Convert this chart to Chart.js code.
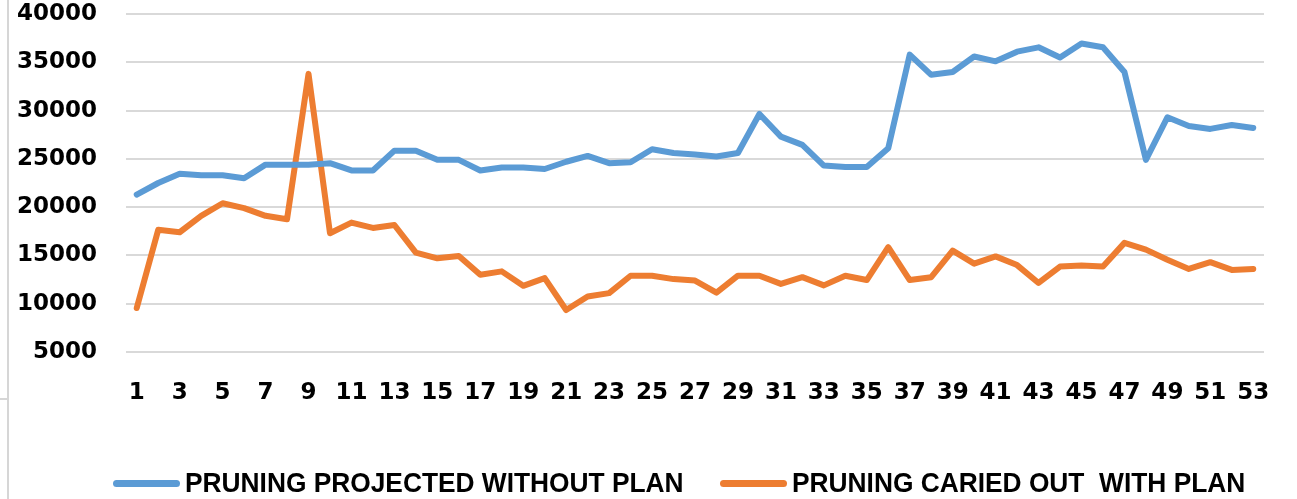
<!DOCTYPE html>
<html>
<head>
<meta charset="utf-8">
<title>Pruning</title>
<script src="https://cdn.jsdelivr.net/npm/chart.js@4/dist/chart.umd.min.js"></script>
<style>
  html, body { margin: 0; padding: 0; background: #fff; }
  #wrap { position: relative; width: 1297px; height: 499px; overflow: hidden; }
  #edge { position: absolute; left: 7px; top: 0; width: 2px; height: 499px; background: #d6d6d6; }
  #edgeTick { position: absolute; left: 0; top: 398px; width: 8px; height: 2px; background: #d6d6d6; }
  #legend {
    position: absolute; left: 113px; top: 466px; height: 34px;
    display: flex; align-items: center; white-space: nowrap;
    font-family: "Liberation Sans", Arial, sans-serif; font-weight: bold; font-size: 28px; color: #000;
  }
  .item { display: flex; align-items: center; margin-right: 36px; }
  .swatch { width: 67px; height: 7px; border-radius: 3.5px; margin-right: 5px; }
  .text { display: inline-block; transform-origin: left center; white-space: pre; }
</style>
</head>
<body>
<div id="wrap">
  <canvas id="pruningChart" width="1297" height="499"></canvas>
  <div id="edge"></div>
  <div id="edgeTick"></div>
  <div id="legend"></div>
</div>
<script>
const weeks = [
  "1", "2", "3", "4", "5", "6", "7", "8", "9", "10",
  "11", "12", "13", "14", "15", "16", "17", "18", "19", "20",
  "21", "22", "23", "24", "25", "26", "27", "28", "29", "30",
  "31", "32", "33", "34", "35", "36", "37", "38", "39", "40",
  "41", "42", "43", "44", "45", "46", "47", "48", "49", "50",
  "51", "52", "53",
];

const withoutPlan = [
  21300, 22500, 23450, 23300, 23300, 23000, 24400, 24400, 24400, 24550,
  23800, 23800, 25850, 25850, 24900, 24900, 23800, 24100, 24100, 23950,
  24700, 25300, 24550, 24650, 26000, 25600, 25450, 25250, 25600, 29650,
  27300, 26450, 24300, 24150, 24150, 26100, 35800, 33700, 34000, 35600,
  35100, 36100, 36550, 35500, 36950, 36550, 34000, 24900, 29300, 28400,
  28100, 28500, 28200,
];

const withPlan = [
  9550, 17650, 17400, 19100, 20400, 19900, 19100, 18750, 33800, 17300,
  18400, 17850, 18150, 15300, 14700, 14950, 13000, 13350, 11850, 12650,
  9350, 10750, 11100, 12900, 12900, 12550, 12400, 11150, 12900, 12900,
  12050, 12750, 11900, 12900, 12450, 15850, 12450, 12750, 15500, 14150,
  14900, 14000, 12150, 13850, 13950, 13850, 16300, 15600, 14550, 13600,
  14300, 13500, 13600,
];

const yTicks = [5000, 10000, 15000, 20000, 25000, 30000, 35000, 40000];

const blue = "#5b9bd5";
const orange = "#ed7d31";
const tickFont = { family: "'DejaVu Sans', sans-serif", size: 23, weight: "bold" };

const ctx = document.getElementById("pruningChart");

const chart = new Chart(ctx, {
  type: "line",
  data: {
    labels: weeks,
    datasets: [
      {
        label: "PRUNING PROJECTED WITHOUT PLAN",
        data: withoutPlan,
        borderColor: blue,
        backgroundColor: blue,
        borderWidth: 6,
      },
      {
        label: "PRUNING CARIED OUT  WITH PLAN",
        data: withPlan,
        borderColor: orange,
        backgroundColor: orange,
        borderWidth: 6,
      },
    ],
  },
  options: {
    responsive: false,
    animation: false,
    events: [],
    layout: {
      padding: { left: 0, right: 33, top: 14, bottom: 0 },
    },
    elements: {
      point: { radius: 0 },
      line: { tension: 0, borderCapStyle: "round", borderJoinStyle: "round" },
    },
    scales: {
      x: {
        offset: true,
        grid: { display: false, drawTicks: false },
        border: { display: false },
        afterFit: function (scale) {
          scale.height = 147;
        },
        ticks: {
          autoSkip: false,
          maxRotation: 0,
          padding: 27,
          color: "#000",
          font: tickFont,
          // only every other week gets a label
          callback: function (value, index) {
            return index % 2 === 0 ? weeks[index] : "";
          },
        },
      },
      y: {
        min: yTicks[0],
        max: yTicks[yTicks.length - 1],
        afterBuildTicks: function (scale) {
          scale.ticks = yTicks.map((v) => ({ value: v }));
        },
        afterFit: function (scale) {
          scale.width = 126;
        },
        // gap between labels and plot comes from an invisible tick mark,
        // ticks.padding would also push the plot top down
        grid: {
          color: "#d9d9d9",
          lineWidth: 2,
          drawTicks: true,
          tickLength: 29,
          tickColor: "rgba(0,0,0,0)",
        },
        border: { display: false },
        ticks: {
          padding: 0,
          color: "#000",
          font: tickFont,
          callback: function (value) {
            return String(value);
          },
        },
      },
    },
    plugins: {
      tooltip: { enabled: false },
      legend: { display: false },
    },
  },
});

// narrow bold legend under the plot, built from the datasets
const legendBox = document.getElementById("legend");
const squeeze = 0.94;
chart.data.datasets.forEach((ds) => {
  const item = document.createElement("div");
  item.className = "item";
  const swatch = document.createElement("span");
  swatch.className = "swatch";
  swatch.style.background = ds.borderColor;
  const text = document.createElement("span");
  text.className = "text";
  text.textContent = ds.label;
  item.appendChild(swatch);
  item.appendChild(text);
  legendBox.appendChild(item);
  const w = text.offsetWidth;
  text.style.transform = "scaleX(" + squeeze + ")";
  text.style.marginRight = -(1 - squeeze) * w + "px";
});
</script>
</body>
</html>
